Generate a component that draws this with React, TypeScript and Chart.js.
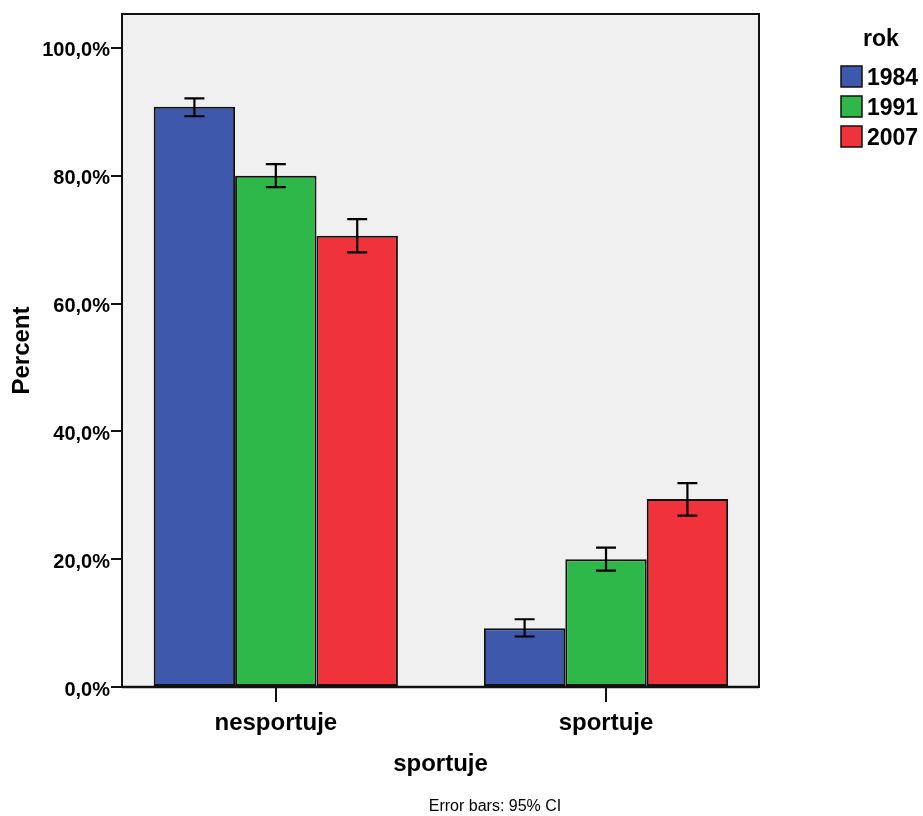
import React, { useEffect, useRef } from 'react';
import { Chart, registerables } from 'chart.js';

Chart.register(...registerables);

// ---- data ----
const categories = ['nesportuje', 'sportuje'];
const years = ['1984', '1991', '2007'];
const colors = ['#3E58AB', '#2FB84A', '#F0333B'];

const values1984 = [90.8, 9.2];
const values1991 = [80.0, 20.0];
const values2007 = [70.6, 29.4];

const lower1984 = [89.3, 7.9];
const upper1984 = [92.1, 10.6];
const lower1991 = [78.2, 18.2];
const upper1991 = [81.8, 21.8];
const lower2007 = [68.0, 26.8];
const upper2007 = [73.2, 31.9];

const yTickValues = [0, 20, 40, 60, 80, 100];

const seriesValues = [values1984, values1991, values2007];
const seriesLower = [lower1984, lower1991, lower2007];
const seriesUpper = [upper1984, upper1991, upper2007];

const FONT = "'Liberation Sans', Arial, Helvetica, sans-serif";

const fmtPct = (v: number) => v.toFixed(1).replace('.', ',') + '%';

const plotBg = {
  id: 'plotBg',
  beforeDatasetsDraw(chart: any) {
    const { ctx, chartArea: a } = chart;
    ctx.save();
    ctx.fillStyle = '#F0F0F0';
    ctx.fillRect(a.left, a.top, a.right - a.left, a.bottom - a.top);
    ctx.restore();
  },
  afterDatasetsDraw(chart: any) {
    const { ctx, chartArea: a } = chart;
    const yScale = chart.scales.y;
    // error bars
    ctx.save();
    ctx.strokeStyle = '#000';
    ctx.lineWidth = 2.2;
    seriesValues.forEach((_, i) => {
      const meta = chart.getDatasetMeta(i);
      meta.data.forEach((el: any, j: number) => {
        const x = el.x;
        const yl = yScale.getPixelForValue(seriesLower[i][j]);
        const yu = yScale.getPixelForValue(seriesUpper[i][j]);
        const cap = 10;
        ctx.beginPath();
        ctx.moveTo(x, yl);
        ctx.lineTo(x, yu);
        ctx.moveTo(x - cap, yl);
        ctx.lineTo(x + cap, yl);
        ctx.moveTo(x - cap, yu);
        ctx.lineTo(x + cap, yu);
        ctx.stroke();
      });
    });
    // frame
    ctx.lineWidth = 2;
    ctx.strokeStyle = '#111';
    ctx.strokeRect(a.left, a.top, a.right - a.left, a.bottom - a.top);
    ctx.lineWidth = 2.5;
    ctx.beginPath();
    ctx.moveTo(a.left, a.bottom);
    ctx.lineTo(a.right, a.bottom);
    ctx.stroke();
    ctx.restore();
  },
  afterDraw(chart: any) {
    const { ctx } = chart;
    ctx.save();
    // legend
    ctx.fillStyle = '#000';
    ctx.font = `bold 23px ${FONT}`;
    ctx.textAlign = 'center';
    ctx.textBaseline = 'middle';
    ctx.fillText('rok', 881, 40);
    years.forEach((yr, i) => {
      const top = 66 + i * 30;
      ctx.fillStyle = colors[i];
      ctx.fillRect(841, top, 21, 21);
      ctx.strokeStyle = '#111';
      ctx.lineWidth = 1.5;
      ctx.strokeRect(841, top, 21, 21);
      ctx.fillStyle = '#000';
      ctx.textAlign = 'left';
      ctx.fillText(yr, 867, top + 13);
    });
    // footnote
    ctx.font = `16px ${FONT}`;
    ctx.textAlign = 'center';
    ctx.fillText('Error bars: 95% CI', 495, 807);
    ctx.restore();
  },
};

export default function App() {
  const ref = useRef<HTMLCanvasElement | null>(null);

  useEffect(() => {
    if (!ref.current) return;
    const chart = new Chart(ref.current, {
      type: 'bar',
      data: {
        datasets: years.map((yr, i) => ({
          label: yr,
          data: categories.map((_, j) => ({ x: j, y: seriesValues[i][j] })),
          backgroundColor: colors[i],
          borderColor: '#111',
          borderWidth: 2,
          borderSkipped: false,
          categoryPercentage: 0.7396,
          barPercentage: 1,
        })),
      },
      plugins: [plotBg],
      options: {
        responsive: false,
        animation: false,
        devicePixelRatio: 1,
        layout: { padding: { left: 0, top: 14, right: 164, bottom: 0 } },
        plugins: {
          legend: { display: false },
          tooltip: { enabled: false },
        },
        scales: {
          x: {
            type: 'linear',
            min: -0.4658,
            max: 1.4633,
            offset: false,
            afterFit: (s: any) => {
              s.height = 129;
            },
            ticks: {
              stepSize: 1,
              includeBounds: false,
              autoSkip: false,
              maxRotation: 0,
              padding: 7,
              color: '#000',
              font: { family: FONT, size: 24, weight: 'bold' },
              callback: (v: any) => categories[v] ?? '',
            },
            grid: {
              display: true,
              offset: false,
              drawOnChartArea: false,
              drawTicks: true,
              tickLength: 15,
              color: '#111',
              lineWidth: 2,
            },
            border: { display: true, color: '#111', width: 2 },
            title: {
              display: true,
              text: 'sportuje',
              color: '#000',
              font: { family: FONT, size: 24, weight: 'bold' },
              padding: { top: 0, bottom: 37 },
            },
          },
          y: {
            type: 'linear',
            min: 0,
            max: 105.3,
            afterFit: (s: any) => {
              s.width = 122;
            },
            afterBuildTicks: (s: any) => {
              s.ticks = yTickValues.map((v) => ({ value: v }));
            },
            ticks: {
              stepSize: 20,
              includeBounds: false,
              padding: 1,
              labelOffset: 3,
              color: '#000',
              font: { family: FONT, size: 20, weight: 'bold' },
              callback: (v: any) => fmtPct(Number(v)),
            },
            grid: {
              display: true,
              drawOnChartArea: false,
              drawTicks: true,
              tickLength: 11,
              color: '#111',
              lineWidth: 2,
            },
            border: { display: true, color: '#111', width: 2 },
            title: {
              display: true,
              text: 'Percent',
              color: '#000',
              font: { family: FONT, size: 24, weight: 'bold' },
              padding: { top: 8, bottom: 0 },
            },
          },
        },
      },
    } as any);
    return () => chart.destroy();
  }, []);

  return (
    <div style={{ position: 'absolute', left: 0, top: 0, width: 923, height: 816 }}>
      <canvas ref={ref} width={923} height={816} style={{ display: 'block' }} />
    </div>
  );
}
